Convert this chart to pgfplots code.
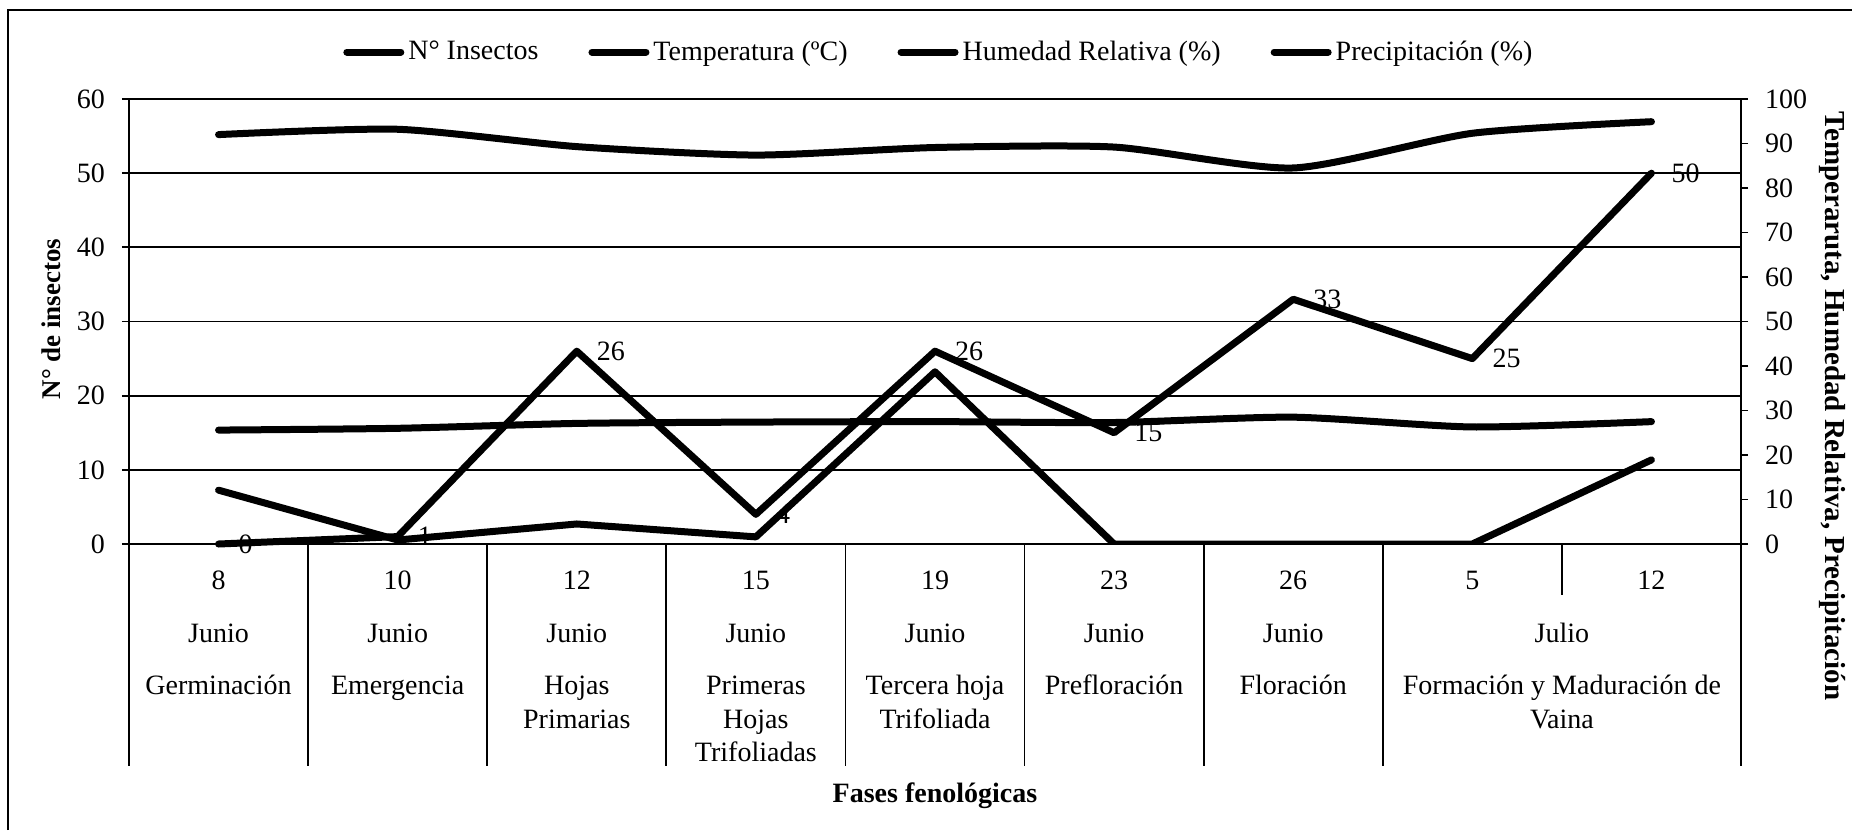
\documentclass[border=0pt]{standalone}
\usepackage{fontspec}
\setmainfont{Liberation Serif}
\usepackage{pgfplots}
\pgfplotsset{compat=1.18}
\newcommand{\fs}{\fontsize{14pt}{17pt}\selectfont}
\begin{document}
\begin{tikzpicture}[font=\fs]
\path[use as bounding box] (0,0) rectangle (926pt,-415pt);
\draw[line width=0.9pt] (4pt,-415pt) -- (4pt,-5pt) -- (926pt,-5pt);

\begin{axis}[
  at={(64.5pt,-272pt)}, anchor=south west,
  scale only axis, width=806pt, height=222.5pt,
  xmin=-0.5, xmax=8.5, ymin=0, ymax=60,
  ytick={0,10,...,60},
  xtick=\empty,
  ymajorgrids, grid style={black, line width=0.9pt},
  axis line style={black, line width=0.9pt},
  ytick pos=left, tick align=outside,
  major tick length=3.5pt,
  every tick/.style={black, line width=0.9pt},
  /pgf/number format/assume math mode=true,
  ticklabel style={font=\fs},
  yticklabel style={xshift=-5pt},
  clip=false,
]
\addplot[black, line width=3.5pt, line join=round, line cap=round,
  nodes near coords,
  every node near coord/.append style={anchor=west, xshift=5pt, font=\fs, black}]
  coordinates {(0,0) (1,1) (2,26) (3,4) (4,26) (5,15) (6,33) (7,25) (8,50)};
% category separators
\draw[line width=0.9pt] (axis cs:-0.5,0) -- ++(0pt,-111pt);
\draw[line width=0.9pt] (axis cs:0.5,0) -- ++(0pt,-111pt);
\draw[line width=0.9pt] (axis cs:1.5,0) -- ++(0pt,-111pt);
\draw[line width=0.9pt] (axis cs:2.5,0) -- ++(0pt,-111pt);
\draw[line width=0.9pt] (axis cs:3.5,0) -- ++(0pt,-111pt);
\draw[line width=0.9pt] (axis cs:4.5,0) -- ++(0pt,-111pt);
\draw[line width=0.9pt] (axis cs:5.5,0) -- ++(0pt,-111pt);
\draw[line width=0.9pt] (axis cs:6.5,0) -- ++(0pt,-111pt);
\draw[line width=0.9pt] (axis cs:7.5,0) -- ++(0pt,-25.5pt);
\draw[line width=0.9pt] (axis cs:8.5,0) -- ++(0pt,-111pt);
% day row
\node[anchor=base, yshift=-22.7pt] at (axis cs:0,0) {8};
\node[anchor=base, yshift=-22.7pt] at (axis cs:1,0) {10};
\node[anchor=base, yshift=-22.7pt] at (axis cs:2,0) {12};
\node[anchor=base, yshift=-22.7pt] at (axis cs:3,0) {15};
\node[anchor=base, yshift=-22.7pt] at (axis cs:4,0) {19};
\node[anchor=base, yshift=-22.7pt] at (axis cs:5,0) {23};
\node[anchor=base, yshift=-22.7pt] at (axis cs:6,0) {26};
\node[anchor=base, yshift=-22.7pt] at (axis cs:7,0) {5};
\node[anchor=base, yshift=-22.7pt] at (axis cs:8,0) {12};
% month row
\node[anchor=base, yshift=-49.2pt] at (axis cs:0,0) {Junio};
\node[anchor=base, yshift=-49.2pt] at (axis cs:1,0) {Junio};
\node[anchor=base, yshift=-49.2pt] at (axis cs:2,0) {Junio};
\node[anchor=base, yshift=-49.2pt] at (axis cs:3,0) {Junio};
\node[anchor=base, yshift=-49.2pt] at (axis cs:4,0) {Junio};
\node[anchor=base, yshift=-49.2pt] at (axis cs:5,0) {Junio};
\node[anchor=base, yshift=-49.2pt] at (axis cs:6,0) {Junio};
\node[anchor=base, yshift=-49.2pt] at (axis cs:7.5,0) {Julio};
% phase row
\node[anchor=base, yshift=-75.2pt] at (axis cs:0,0) {Germinación};
\node[anchor=base, yshift=-75.2pt] at (axis cs:1,0) {Emergencia};
\node[anchor=base, yshift=-75.2pt] at (axis cs:2,0) {Hojas};
\node[anchor=base, yshift=-92pt] at (axis cs:2,0) {Primarias};
\node[anchor=base, yshift=-75.2pt] at (axis cs:3,0) {Primeras};
\node[anchor=base, yshift=-92pt] at (axis cs:3,0) {Hojas};
\node[anchor=base, yshift=-108.8pt] at (axis cs:3,0) {Trifoliadas};
\node[anchor=base, yshift=-75.2pt] at (axis cs:4,0) {Tercera hoja};
\node[anchor=base, yshift=-92pt] at (axis cs:4,0) {Trifoliada};
\node[anchor=base, yshift=-75.2pt] at (axis cs:5,0) {Prefloración};
\node[anchor=base, yshift=-75.2pt] at (axis cs:6,0) {Floración};
\node[anchor=base, yshift=-75.2pt] at (axis cs:7.5,0) {Formación y Maduración de};
\node[anchor=base, yshift=-92pt] at (axis cs:7.5,0) {Vaina};
\end{axis}

\begin{axis}[
  at={(64.5pt,-272pt)}, anchor=south west,
  scale only axis, width=806pt, height=222.5pt,
  xmin=-0.5, xmax=8.5, ymin=0, ymax=100,
  ytick={0,10,...,100},
  hide x axis,
  axis y line*=right,
  axis line style={-, black, line width=0.9pt},
  tick align=outside,
  major tick length=3.5pt,
  every tick/.style={black, line width=0.9pt},
  /pgf/number format/assume math mode=true,
  ticklabel style={font=\fs},
  yticklabel style={xshift=5pt},
  legend columns=4,
  legend cell align=left,
  legend style={draw=none, fill=none, font=\fs,
    at={(axis description cs:0.503,1.1056)}, anchor=center,
    /tikz/every even column/.append style={column sep=23pt}},
  legend image code/.code={\draw[#1, line width=3.5pt, line cap=round] (0pt,0pt) -- (27pt,0pt);},
]
\addlegendimage{black, line width=3.5pt}
\addlegendentry{N° Insectos}
\addplot[black, line width=3.5pt, line join=round, line cap=round, smooth, tension=0.4]
  coordinates {(0,25.6) (1,26.0) (2,27.1) (3,27.4) (4,27.5) (5,27.3) (6,28.5) (7,26.3) (8,27.5)};
\addlegendentry{Temperatura (ºC)}
\addplot[black, line width=3.5pt, line join=round, line cap=round, smooth, tension=0.4]
  coordinates {(0,92.0) (1,93.2) (2,89.3) (3,87.4) (4,89.1) (5,89.2) (6,84.5) (7,92.3) (8,94.9)};
\addlegendentry{Humedad Relativa (\%)}
\addplot[black, line width=3.5pt, line join=round, line cap=round]
  coordinates {(0,12.1) (1,0.9) (2,4.5) (3,1.6) (4,38.7) (5,0) (6,0) (7,0) (8,18.9)};
\addlegendentry{Precipitación (\%)}
\end{axis}

\node[rotate=90, font=\fontsize{13.5pt}{16pt}\selectfont\bfseries] at (25.5pt,-159.5pt) {N° de insectos};
\node[rotate=-90, font=\fontsize{14.5pt}{17pt}\selectfont\bfseries] at (916pt,-203pt) {Temperaruta, Humedad Relativa, Precipitación};
\node[anchor=base, font=\fs\bfseries] at (467.5pt,-401.2pt) {Fases fenológicas};
\end{tikzpicture}
\end{document}
